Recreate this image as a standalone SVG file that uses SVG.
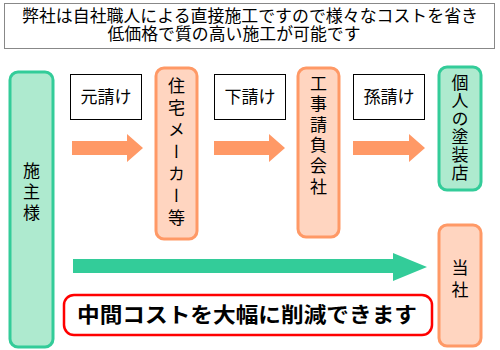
<svg xmlns="http://www.w3.org/2000/svg" width="500" height="350" viewBox="0 0 500 350">
<style>
text{font-family:"Noto Sans CJK JP","Noto Sans",sans-serif;fill:#000;text-anchor:middle}
.t{font-size:17px}
.v{font-size:17px;writing-mode:vertical-rl;text-anchor:middle}
.lbl{fill:#fff;stroke:#000;stroke-width:1}
.g{fill:#aeeacf;stroke:#33cc99;stroke-width:3}
.o{fill:#ffd5c0;stroke:#ff9966;stroke-width:3}
.oa{fill:#ff9966}
.ga{fill:#33cc99}
</style>
<rect x="4.5" y="3.5" width="490" height="45" fill="#fff" stroke="#888" stroke-width="1"/>
<text font-size="16.5"><tspan x="250" y="22" textLength="456" lengthAdjust="spacingAndGlyphs">弊社は自社職人による直接施工ですので様々なコストを省き</tspan><tspan x="234" y="40" textLength="253" lengthAdjust="spacingAndGlyphs">低価格で質の高い施工が可能です</tspan></text>
<g id="connectors">
<polygon class="oa" points="72,141 127,141 127,134 143,148 127,162 127,155 72,155"/>
<polygon class="oa" points="214,141 269,141 269,134 285,148 269,162 269,155 214,155"/>
<polygon class="oa" points="353,141 409,141 409,134 425,148 409,162 409,155 353,155"/>
<polygon class="ga" points="73,259 393,259 393,253 427,267 393,281 393,273 73,273"/>
</g>
<g id="seshu">
<rect class="g" x="10" y="72" width="43" height="275" rx="8"/>
<text class="v" x="31.5" y="194" letter-spacing="4">施主様</text>
</g>
<g id="motouke">
<rect class="lbl" x="70.5" y="74.5" width="71" height="45"/>
<text class="t" x="106" y="103">元請け</text>
</g>
<g id="maker">
<rect class="o" x="156" y="68" width="41" height="171" rx="8"/>
<text class="v" x="176.5" y="154" letter-spacing="5">住宅メーカー等</text>
</g>
<g id="shitauke">
<rect class="lbl" x="214.5" y="74.5" width="71" height="45"/>
<text class="t" x="250" y="103">下請け</text>
</g>
<g id="koji">
<rect class="o" x="298" y="68" width="41" height="169" rx="8"/>
<text class="v" x="318.5" y="136.5" letter-spacing="3.6">工事請負会社</text>
</g>
<g id="magouke">
<rect class="lbl" x="353.5" y="74.5" width="71" height="45"/>
<text class="t" x="389" y="103">孫請け</text>
</g>
<g id="kojin">
<rect class="g" x="439" y="67" width="42" height="123" rx="8"/>
<text class="v" x="460" y="128.5" letter-spacing="1">個人の塗装店</text>
</g>
<g id="tousha">
<rect class="o" x="439" y="225" width="42" height="121" rx="8"/>
<text class="v" x="460" y="281" letter-spacing="5">当社</text>
</g>
<g id="message">
<rect x="64" y="295" width="368" height="40" rx="10" fill="#fff" stroke="#ff0000" stroke-width="2.5"/>
<text x="247" y="322" font-size="21" font-weight="bold" textLength="340" lengthAdjust="spacingAndGlyphs">中間コストを大幅に削減できます</text>
</g>
</svg>
